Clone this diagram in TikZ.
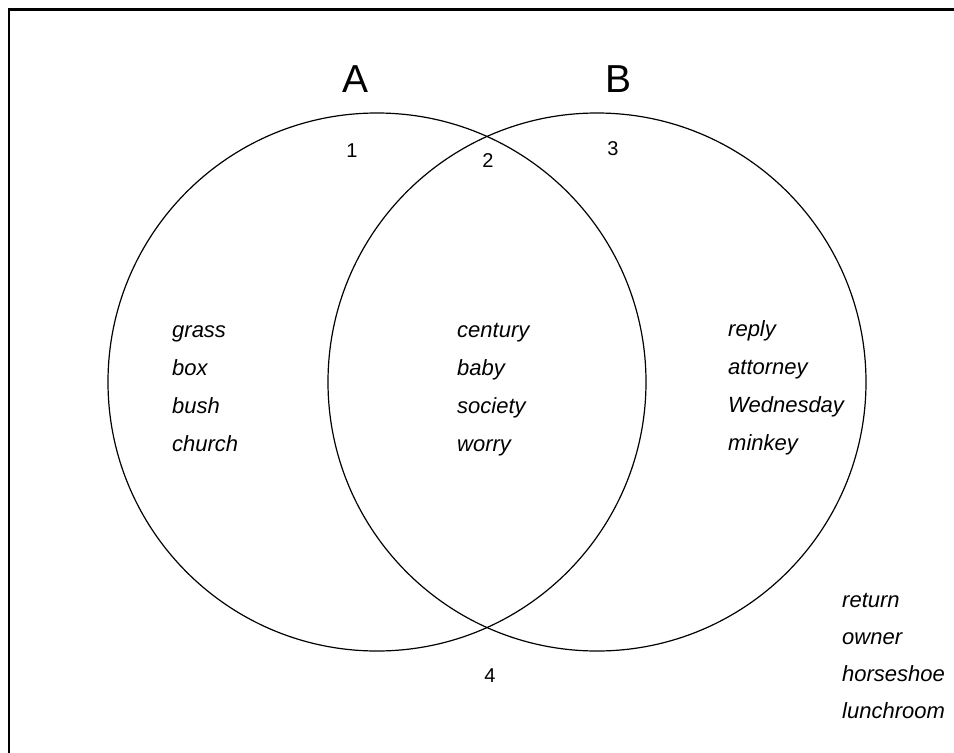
\documentclass[tikz,border=0pt]{standalone}
\usepackage{fontspec}
\setmainfont{Liberation Sans}
\tikzset{
  word/.style={anchor=base west,inner sep=0pt,font=\fontsize{22}{26}\selectfont\itshape},
  num/.style={anchor=base,inner sep=0pt,font=\fontsize{20}{24}\selectfont},
  setname/.style={anchor=base,inner sep=0pt,font=\fontsize{39}{44}\selectfont},
  ring/.style={draw,circle,line width=1.2pt,minimum size=538pt,inner sep=0pt}
}
\begin{document}
\begin{tikzpicture}[x=1pt,y=-1pt]
  \useasboundingbox (0,0) rectangle (954,753);
  \fill[white] (0,0) rectangle (954,753);
  % frame, only left and top edges show
  \draw[line width=2.5pt] (9,753)--(9,9.5)--(954,9.5);
  % the two sets
  \node[ring] (ca) at (377,382) {};
  \node[ring] (cb) at (597,382) {};
  \node[setname] (la) at (356,92) {A};
  \node[setname] (lb) at (619,92) {B};
  \node[num] (n1) at (352,157) {1};
  \node[num] (n2) at (488,167) {2};
  \node[num] (n3) at (613,155) {3};
  \node[num] (n4) at (490,682) {4};
  % word lists
  \foreach \w [count=\i] in {grass,box,bush,church}
    \node[word] (wa\i) at (172,{337+38.3*(\i-1)}) {\w};
  \foreach \w [count=\i] in {century,baby,society,worry}
    \node[word] (wab\i) at (457,{337+38.3*(\i-1)}) {\w};
  \foreach \w [count=\i] in {reply,attorney,Wednesday,minkey}
    \node[word] (wb\i) at (728,{336+38.3*(\i-1)}) {\w};
  \foreach \w [count=\i] in {return,owner,horseshoe,lunchroom}
    \node[word] (wo\i) at (842,{607+37.2*(\i-1)}) {\w};
\end{tikzpicture}
\end{document}
